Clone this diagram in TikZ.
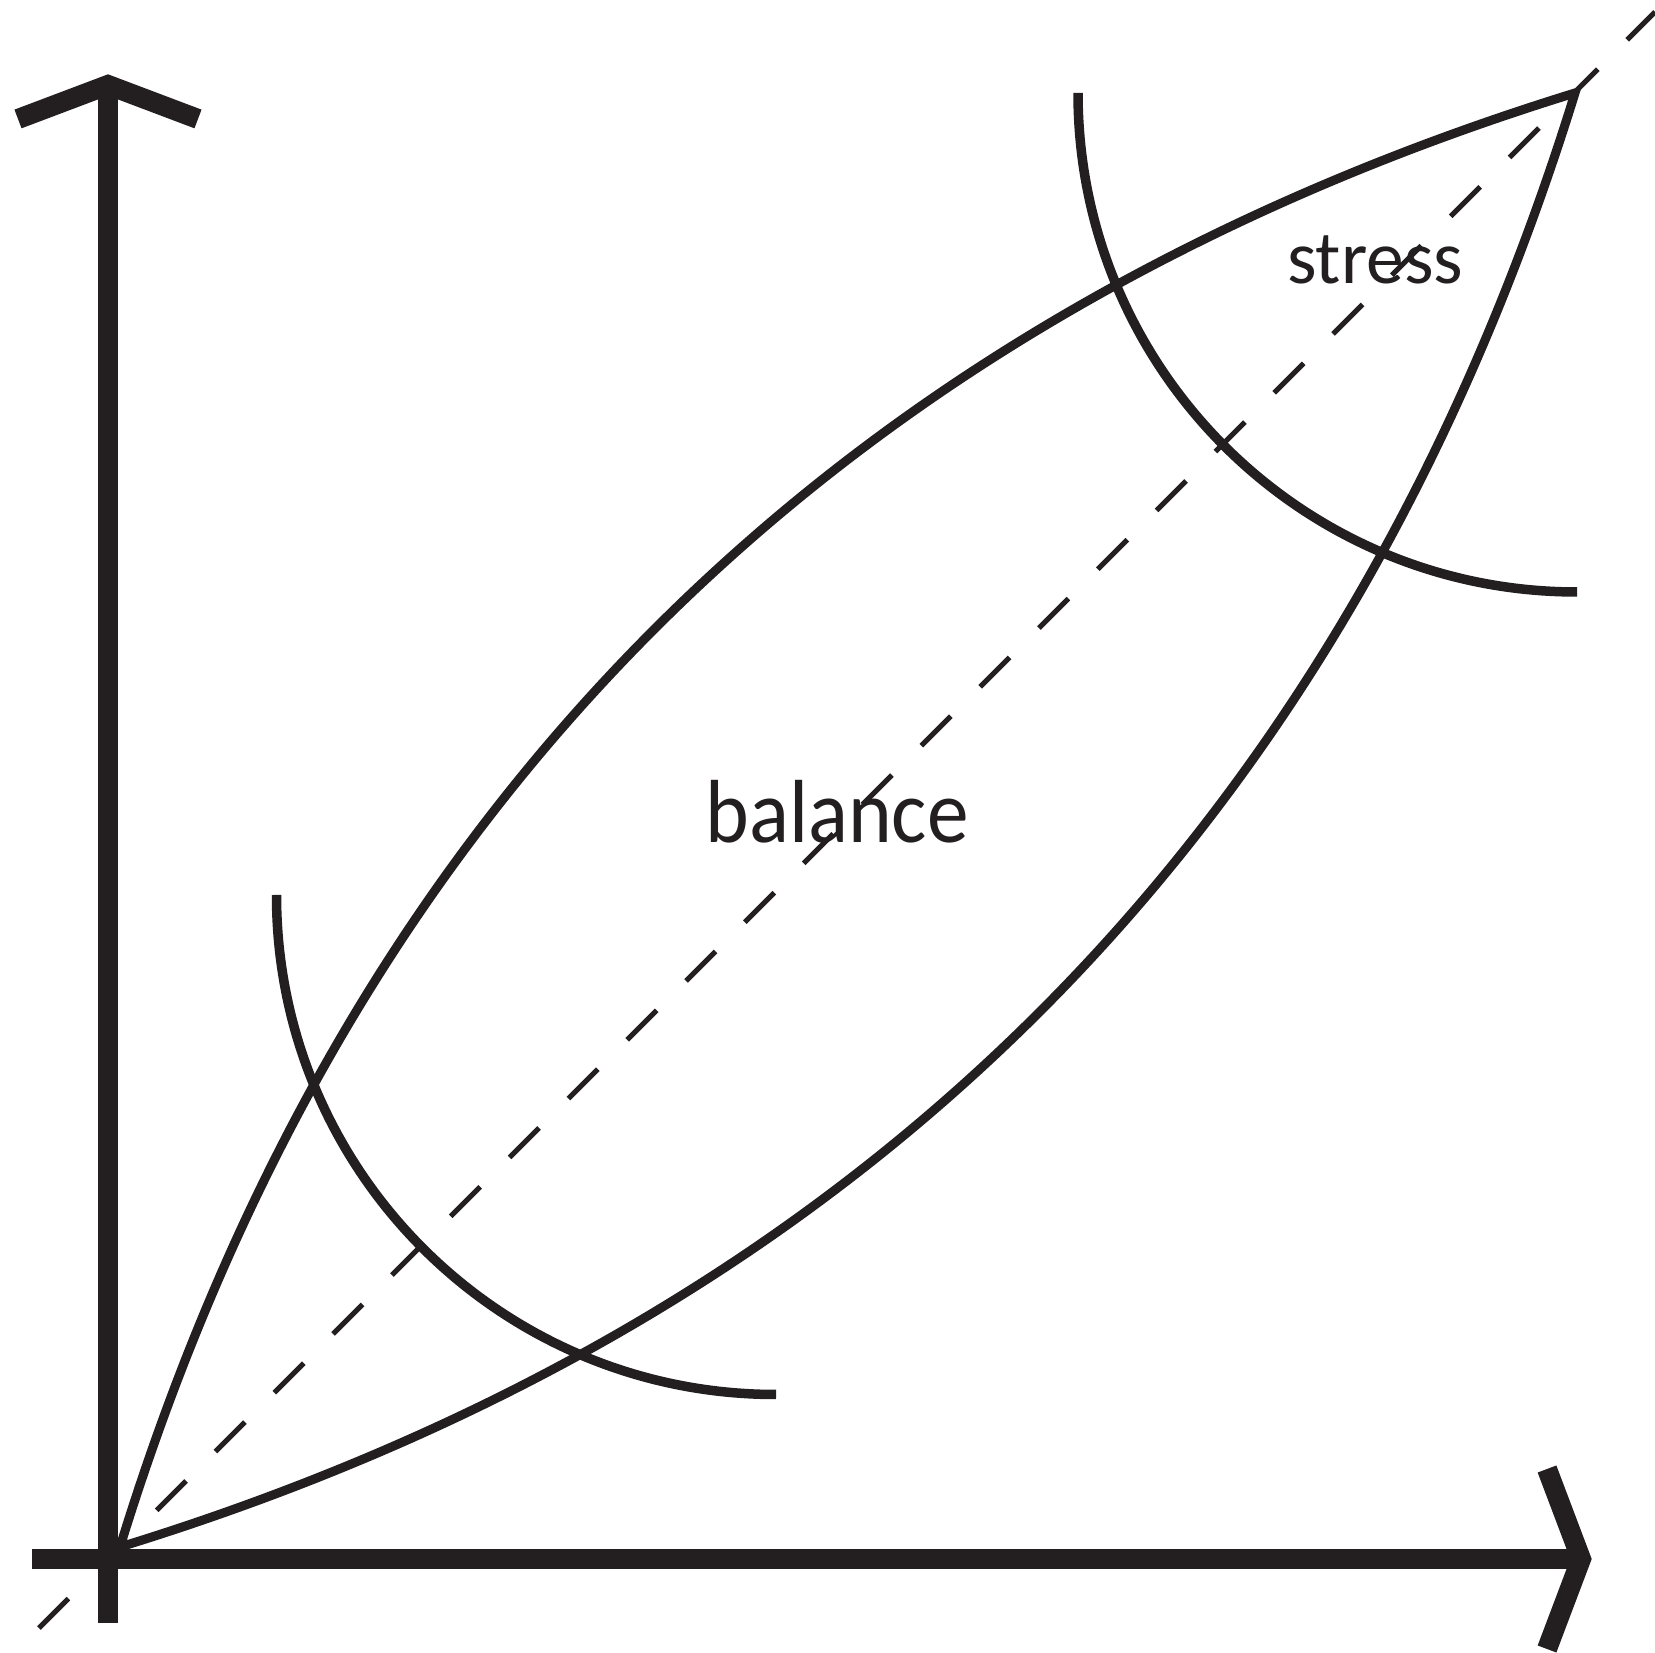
\documentclass[tikz,border=0pt]{standalone}
\usepackage{fontspec}
\setmainfont{Carlito}
\newfontfamily\narrowfont[FakeStretch=0.93]{Carlito}
\usepackage{xcolor}
\usepackage{tikz}
\usetikzlibrary{calc}
\definecolor{inkblack}{RGB}{35, 31, 32}

\begin{document}
\begin{tikzpicture}[
					x=0.02cm, y=0.02cm,
					axisline/.style={draw=inkblack, line width=0.4cm, line join=miter},
					lensline/.style={draw=inkblack, line width=0.18cm, line join=miter},
					arcline/.style={draw=inkblack, line width=0.19cm},
					diagline/.style={draw=inkblack, line width=0.1cm, dash pattern=on 0.834cm off 0.83cm},
					lbl/.style={text=inkblack, inner sep=0pt, anchor=base}
				]
				\useasboundingbox (-108,-93) rectangle (1547,1559);

				% 1. Axes
				\coordinate (origin) at (0,0);
				\coordinate (ytip) at (0,1474);
				\coordinate (xtip) at (1473,0);
				\draw[axisline] (0,-64) -- (ytip);
				\draw[axisline] (-76,0) -- (xtip);
				\draw[axisline] ($(ytip)+(-90,-34)$) -- (ytip) -- ($(ytip)+(90,-34)$);
				\draw[axisline] ($(xtip)+(-34,90)$) -- (xtip) -- ($(xtip)+(-34,-90)$);

				% 2. Diagonal
				\coordinate (dstart) at (-69,-69);
				\coordinate (dend) at (1547,1547);
				\draw[diagline] (dstart) -- (dend);

				% 3. Lens
				\coordinate (lensA) at (12,12);
				\coordinate (lensB) at (1467,1466);
				\draw[lensline] (lensA) .. controls (240,752) and (726,1237) .. (lensB)
					.. controls (1238,726) and (753,240) .. (lensA);

				% 4. Arcs
				\draw[arcline] (168.5,664) arc[start angle=180, end angle=270, radius=499.5];
				\draw[arcline] (970,1466) arc[start angle=180, end angle=270, radius=499];

				% Labels
				\node[lbl, font=\narrowfont\fontsize{51}{60}\selectfont] (balance) at (729,716) {balance};
				\node[lbl, font=\fontsize{43}{50}\selectfont] (stress) at (1267,1275) {stress};

			\end{tikzpicture}
\end{document}
